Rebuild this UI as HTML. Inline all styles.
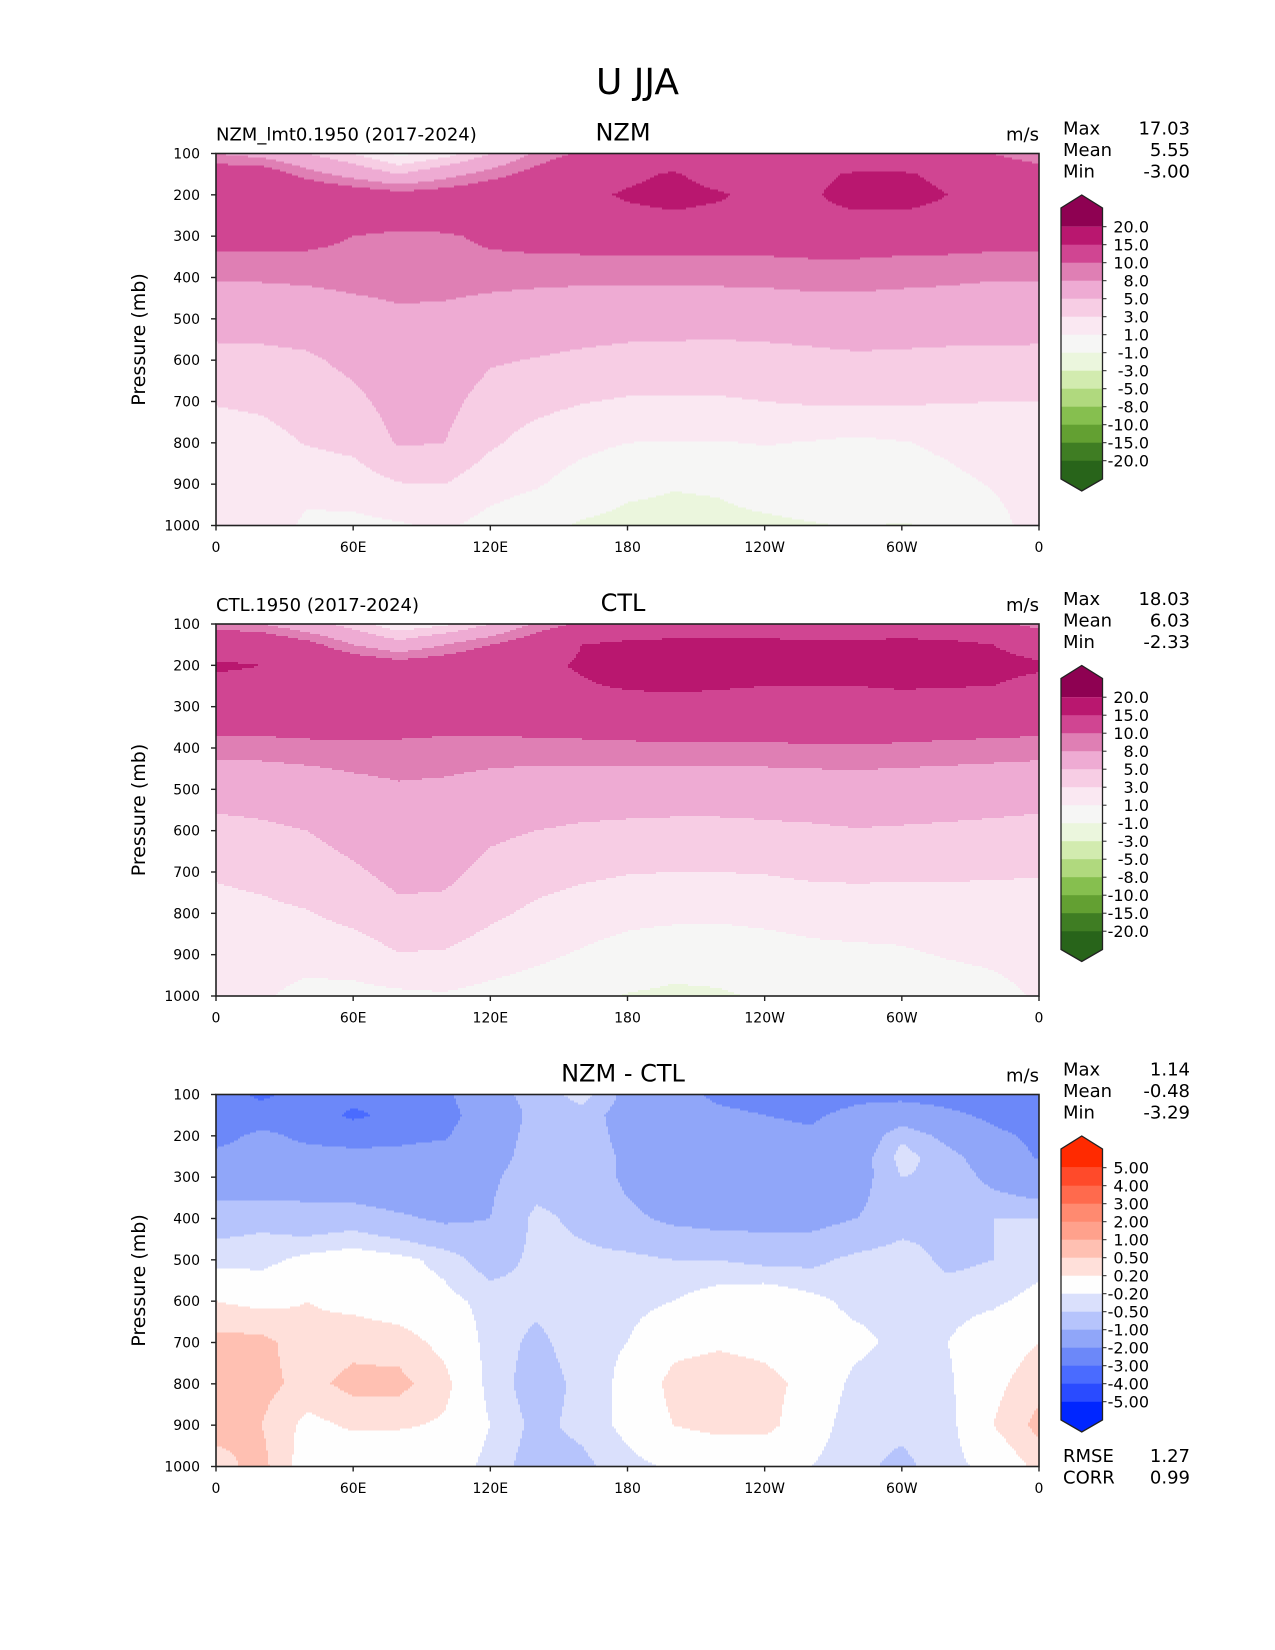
<!DOCTYPE html>
<html><head><meta charset="utf-8"><style>
html,body{margin:0;padding:0;background:#fff}
svg{display:block;font-family:"DejaVu Sans","Liberation Sans",sans-serif}
</style></head><body>
<svg id="fig" width="1275" height="1650" viewBox="0 0 1275 1650" xmlns="http://www.w3.org/2000/svg">
<rect width="1275" height="1650" fill="#fff"/>
<text x="637.5" y="94" font-size="36" text-anchor="middle">U JJA</text>
</svg>
<script>
// ---- data ----
const lons = [0,20,40,60,80,100,120,140,160,180,200,220,240,260,280,300,320,340,360];
const pres = [100,150,200,250,300,400,500,600,700,800,900,1000];
const nzmU = [
[8,7,5,3,0.5,2,5,8.5,10.5,11,11,11,11,11,11,11,11,10,8],
[12,12,9,7,5,7,9,11,13,14,15.5,13,13,14,15.5,15.5,14,13,12],
[13.5,13.5,13,12,11,11.5,12.5,13,14,15.5,16.5,15.5,13.5,14.5,16.5,16.5,15,14,13.5],
[13,13,12.5,12.5,12,12,12.5,13,13.5,14,14.5,14,13.5,14,14.5,14.5,14,13.5,13],
[11,11,10.8,10,9.3,9.6,10.6,11,11.2,11.2,11.2,11.2,11.2,11.2,11.2,11.2,11.2,11.1,11],
[8.2,8.3,8.5,8.8,8.9,8.9,8.7,8.6,8.5,8.6,8.6,8.6,8.7,9.0,9.0,8.7,8.5,8.2,8.2],
[5.8,5.8,6,6.8,7.5,7.3,6.8,6.3,6,5.8,5.8,5.8,5.9,6.0,6.1,6.1,6,5.9,5.8],
[4.4,4.5,4.7,5.5,6.5,6.3,5.2,4.9,4.6,4.4,4.3,4.2,4.3,4.5,4.7,4.6,4.5,4.5,4.5],
[3.1,3.3,3.8,4.5,5.8,5.6,4.2,3.6,3.1,2.8,2.8,2.8,3.0,3.2,3.3,3.2,3.1,3.0,3.0],
[2.2,2.4,3.1,3.5,5.2,5,3.3,2.2,1.5,1.0,0.9,0.9,1.1,0.9,0.6,0.9,1.3,1.8,2.1],
[1.6,1.8,1.8,2.0,2.9,3.0,1.8,1.2,0.2,-0.6,-0.9,-0.8,-0.3,0.0,-0.2,0.3,0.6,1.1,1.5],
[1.5,2.5,0.5,0.5,0.8,1.3,0.3,-0.5,-1.2,-1.5,-1.5,-1.4,-1.3,-1.1,-0.9,-1.1,-0.8,0.6,1.5]];
const ctlU = [
[9,8,6,4,1.5,2.5,5,8.5,10.5,11,11.5,11.5,11.5,11.5,11.5,11.5,11.5,11,9],
[13,13,11,8,6,8,10,12,15,16,16.5,16.5,16.5,16,16,16.5,16,15,13.5],
[15.5,15,13.5,12.5,11.5,12,13,14,15.5,17,17.5,17,16.5,16.5,16.5,17,16.5,16,15.5],
[14,14,13.5,13,12.5,12.5,13,13.5,14.5,15.5,16,15.5,15,15,15,15.5,15.2,15,14],
[12.5,12.5,12.5,12,11.5,11.5,12,12.3,12.5,12.8,13,12.8,12.6,12.5,12.5,12.6,12.6,12.6,12.5],
[9,9,9.3,9.5,9.6,9.4,9.2,9.2,9.3,9.4,9.5,9.5,9.6,9.7,9.8,9.6,9.4,9.2,9],
[5.7,5.8,6.2,7.0,7.6,7.4,6.8,6.4,6.2,6.0,6.0,6.0,6.1,6.3,6.4,6.3,6.1,5.9,5.7],
[4.5,4.7,5.0,5.8,6.6,6.4,5.4,5.0,4.7,4.6,4.5,4.5,4.6,4.7,4.9,4.8,4.7,4.6,4.5],
[3.2,3.5,4.0,4.7,5.6,5.5,4.4,3.8,3.4,3.1,3.0,3.0,3.1,3.4,3.5,3.4,3.3,3.2,3.1],
[2.4,2.6,2.9,3.6,4.5,4.4,3.4,2.6,2.0,1.6,1.5,1.4,1.5,1.6,1.7,1.7,2.0,2.2,2.3],
[1.8,1.7,1.6,2.0,2.9,2.8,2.0,1.4,0.8,0.2,-0.3,-0.2,0.2,0.6,0.7,0.8,1.1,1.3,1.6],
[1.4,1.2,0.5,0.4,0.6,0.8,0.4,0.0,-0.5,-1.1,-1.3,-1.2,-0.8,-0.5,-0.9,-0.3,0.2,0.5,1.2]];
const diffU = [
[-2.5,-3.2,-2.5,-2.6,-2.5,-2.2,-1.2,-0.8,-0.3,-1.2,-1.6,-2.2,-2.4,-2.4,-2.2,-2.3,-2.4,-2.5,-2.5],
[-2.6,-2.5,-2.4,-3.2,-2.7,-2.3,-1.5,-0.8,-0.7,-1.3,-1.6,-1.8,-2.0,-2.1,-1.8,-1.4,-1.8,-2.2,-2.5],
[-2.3,-1.8,-2.2,-2.3,-2.2,-2.1,-1.3,-0.8,-0.7,-1.2,-1.5,-1.6,-1.8,-1.9,-1.6,-0.6,-1.2,-1.8,-2.2],
[-1.8,-1.6,-1.7,-1.8,-1.8,-1.6,-1.2,-0.8,-0.7,-1.1,-1.4,-1.5,-1.6,-1.7,-1.4,-0.3,-0.8,-1.4,-2.1],
[-1.4,-1.5,-1.3,-1.5,-1.6,-1.5,-1.1,-0.7,-0.7,-1.1,-1.3,-1.4,-1.5,-1.6,-1.3,-0.5,-0.6,-1.2,-1.6],
[-0.7,-0.6,-0.8,-0.7,-0.9,-1.1,-1.0,-0.4,-0.6,-0.9,-1.1,-1.2,-1.2,-1.2,-1.0,-0.7,-0.6,-0.5,-0.5],
[-0.3,-0.3,-0.1,0.0,-0.1,-0.3,-0.7,-0.4,-0.4,-0.4,-0.5,-0.5,-0.6,-0.6,-0.4,-0.3,-0.6,-0.5,-0.3],
[0.2,0.1,0.2,0.1,0.0,-0.1,-0.3,-0.4,-0.3,-0.3,-0.2,0.0,0.1,-0.1,-0.3,-0.3,-0.3,-0.25,-0.1],
[0.6,0.6,0.3,0.4,0.35,0.1,-0.3,-0.6,-0.3,-0.2,0.1,0.15,0.1,0.0,-0.1,-0.3,-0.2,0.0,0.2],
[0.7,0.6,0.4,0.6,0.6,0.3,-0.3,-0.7,-0.4,-0.1,0.3,0.4,0.3,0.1,-0.3,-0.4,-0.25,0.1,0.4],
[0.6,0.5,0.1,0.25,0.25,0.15,-0.2,-0.6,-0.4,-0.1,0.2,0.3,0.3,0.0,-0.4,-0.4,-0.3,0.2,0.6],
[0.4,0.6,0.0,-0.1,-0.2,0.0,-0.3,-0.7,-0.6,-0.3,-0.15,-0.1,-0.1,-0.2,-0.4,-0.6,-0.3,-0.1,0.3]];
const uLevels = [-20,-15,-10,-8,-5,-3,-1,1,3,5,8,10,15,20];
const uLabels = ["20.0","15.0","10.0","8.0","5.0","3.0","1.0","-1.0","-3.0","-5.0","-8.0","-10.0","-15.0","-20.0"];
const dLevels = [-5,-4,-3,-2,-1,-0.5,-0.2,0.2,0.5,1,2,3,4,5];
const dLabels = ["5.00","4.00","3.00","2.00","1.00","0.50","0.20","-0.20","-0.50","-1.00","-2.00","-3.00","-4.00","-5.00"];
const xTickVals = [0,60,120,180,240,300,360];
const xTickLabels = ["0","60E","120E","180","120W","60W","0"];
const yTickVals = [100,200,300,400,500,600,700,800,900,1000];
const statsNames = ["Max","Mean","Min"];
const stats1 = ["17.03","5.55","-3.00"];
const stats2 = ["18.03","6.03","-2.33"];
const stats3 = ["1.14","-0.48","-3.29"];
const errNames = ["RMSE","CORR"];
const errVals = ["1.27","0.99"];

const uColors = ["#28641a","#3f7d23","#63a032","#86bf4f","#b0d97e","#d2ebaf","#ebf6dd","#f6f6f5","#fae8f2","#f7cde4","#eeabd3","#df7fb4","#d04592","#b9176f","#8e0152"];
const dColors = ["#0026ff","#2a4bff","#4a6bff","#6c88f9","#90a6f9","#b6c4fc","#dae0fc","#fefefe","#ffe0da","#ffc0b2","#ffa18c","#ff8a70","#ff6a4d","#ff4a2a","#ff2a00"];

// ---- layout ----
const NS="http://www.w3.org/2000/svg";
const svg=document.getElementById('fig');
const X0=216, X1=1039, PH=372;
function el(tag,attrs,parent){const e=document.createElementNS(NS,tag);for(const k in attrs)e.setAttribute(k,attrs[k]);(parent||svg).appendChild(e);return e;}
function xs(lon){return X0+(lon/360)*(X1-X0);}
function ys(p,top){return top+(p-100)/900*PH;}
function interp(grid,lon,p){
  let i=0;while(i<lons.length-2&&lon>lons[i+1])i++;
  let j=0;while(j<pres.length-2&&p>pres[j+1])j++;
  const tx=Math.max(0,Math.min(1,(lon-lons[i])/(lons[i+1]-lons[i])));
  const ty=Math.max(0,Math.min(1,(p-pres[j])/(pres[j+1]-pres[j])));
  const a=grid[j][i]*(1-tx)+grid[j][i+1]*tx;
  const b=grid[j+1][i]*(1-tx)+grid[j+1][i+1]*tx;
  return a*(1-ty)+b*ty;
}
function binIdx(v,levels){let k=0;while(k<levels.length&&v>=levels[k])k++;return k;}

function panel(top,grid,levels,colors,labels,leftTitle,title,stats,pname){
  const g=el('g',{});
  
  
  const field=el('g',{'shape-rendering':'crispEdges'},g);
  
  
  const step=2;
  for(let y=top;y<top+PH;y+=step){
    const p=100+(y+step/2-top)/PH*900;
    const h=Math.min(step+0.3,top+PH-y);
    let runStart=X0,runC=null;
    for(let x=X0;x<X1;x+=step){
      const lon=(x+step/2-X0)/(X1-X0)*360;
      const c=colors[binIdx(interp(grid,lon,p),levels)];
      if(c!==runC){
        if(runC!==null){el('rect',{x:runStart,y:y,width:x-runStart+0.3,height:h,fill:runC},field);}
        runStart=x;runC=c;
      }
    }
    if(runC!==null){el('rect',{x:runStart,y:y,width:X1-runStart,height:h,fill:runC},field);}
  }
  const fr=el('rect',{x:X0,y:top,width:X1-X0,height:PH,fill:'none',stroke:'#222','stroke-width':1.6},g);
  
  
  xTickVals.forEach((v,i)=>{
    const x=xs(v);
    el('line',{x1:x,x2:x,y1:top+PH,y2:top+PH+5,stroke:'#222','stroke-width':1.4},g);
    const t=el('text',{x:x,y:top+PH+26.5,'font-size':14,'text-anchor':'middle'},g);
    t.textContent=xTickLabels[i];
    
    
  });
  yTickVals.forEach(v=>{
    const y=ys(v,top);
    el('line',{x1:X0-5,x2:X0,y1:y,y2:y,stroke:'#222','stroke-width':1.4},g);
    const t=el('text',{x:X0-16,y:y+5,'font-size':14,'text-anchor':'end'},g);
    t.textContent=String(v);
    
    
  });
  const yl=el('text',{x:0,y:0,'font-size':19,'text-anchor':'middle',transform:`translate(145,${top+PH/2}) rotate(-90)`},g);
  yl.textContent='Pressure (mb)';
  
  
  if(leftTitle){
    const lt=el('text',{x:X0,y:top-13,'font-size':18},g);
    lt.textContent=leftTitle;
    
    
  }
  const tt=el('text',{x:623,y:top-13,'font-size':24,'text-anchor':'middle'},g);
  tt.textContent=title;
  
  
  const un=el('text',{x:X1,y:top-13,'font-size':18,'text-anchor':'end'},g);
  un.textContent='m/s';
  
  
  statsNames.forEach((n,i)=>{
    const a=el('text',{x:1063,y:top-19+i*21.5,'font-size':18},g);
    a.textContent=n;
    
    
    const b=el('text',{x:1190,y:top-19+i*21.5,'font-size':18,'text-anchor':'end'},g);
    b.textContent=stats[i];
    
    
  });
  const cb=el('g',{},g);
  
  
  const cx0=1061,cx1=1102.5,bin=18,b0=top+73.2;
  const n=levels.length;
  el('polygon',{points:`${cx0},${b0} ${cx0},${b0-18.7} ${(cx0+cx1)/2},${b0-31.7} ${cx1},${b0-18.7} ${cx1},${b0}`,fill:colors[colors.length-1]},cb);
  for(let k=0;k<n-1;k++){
    el('rect',{x:cx0,y:b0+k*bin,width:cx1-cx0,height:bin+0.3,fill:colors[colors.length-2-k]},cb);
  }
  const bE=b0+(n-1)*bin;
  el('polygon',{points:`${cx0},${bE} ${cx0},${bE+18.3} ${(cx0+cx1)/2},${bE+30.3} ${cx1},${bE+18.3} ${cx1},${bE}`,fill:colors[0]},cb);
  el('polygon',{points:`${cx0},${b0} ${cx0},${b0-18.7} ${(cx0+cx1)/2},${b0-31.7} ${cx1},${b0-18.7} ${cx1},${bE+18.3} ${(cx0+cx1)/2},${bE+30.3} ${cx0},${bE+18.3} Z`,fill:'none',stroke:'#222','stroke-width':1.3},cb);
  labels.forEach((lab,k)=>{
    const y=b0+k*bin;
    el('line',{x1:cx1,x2:cx1+4,y1:y,y2:y,stroke:'#222','stroke-width':1},cb);
    const t=el('text',{x:1149,y:y+6,'font-size':16,'text-anchor':'end'},cb);
    t.textContent=lab;
    
    
  });
  return g;
}
panel(153.5,nzmU,uLevels,uColors,uLabels,'NZM_lmt0.1950 (2017-2024)','NZM',stats1,'nzm');
panel(624,ctlU,uLevels,uColors,uLabels,'CTL.1950 (2017-2024)','CTL',stats2,'ctl');
panel(1094.5,diffU,dLevels,dColors,dLabels,null,'NZM - CTL',stats3,'diff');
errNames.forEach((n,i)=>{
  const a=el('text',{x:1063,y:1462+i*21.5,'font-size':18});
  a.textContent=n;
  
  
  const b=el('text',{x:1190,y:1462+i*21.5,'font-size':18,'text-anchor':'end'});
  b.textContent=errVals[i];
  
  
});
</script>
</body></html>
